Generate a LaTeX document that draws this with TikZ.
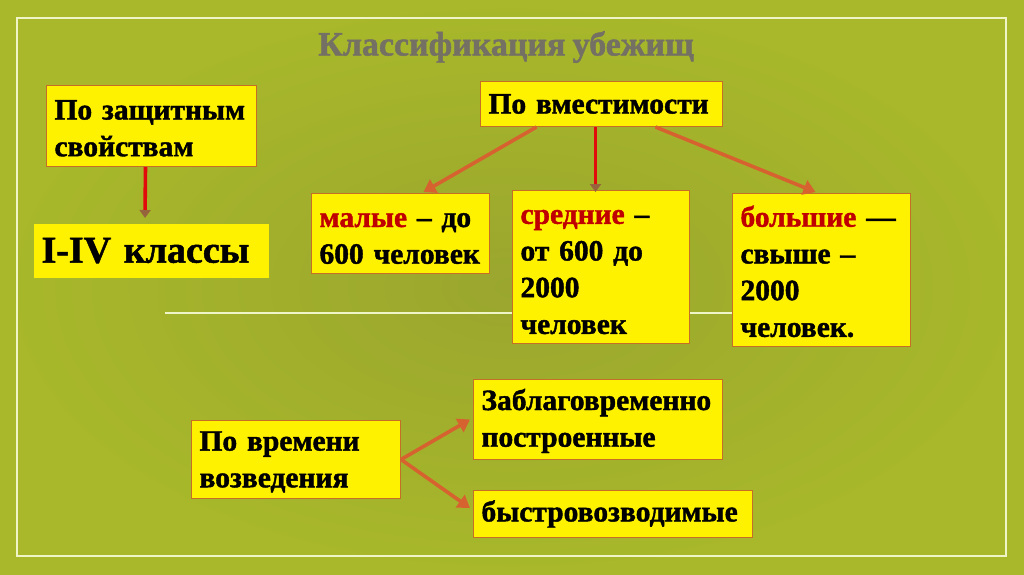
\documentclass[tikz,border=0pt]{standalone}
\usepackage{fontspec}
\setmainfont{Liberation Serif}[BoldFont={Liberation Serif Bold}]
\newfontfamily\tnrbold{Liberation Serif Bold}[FakeBold=1.4, WordSpace=0.85]
\usetikzlibrary{arrows.meta}
\definecolor{bgout}{RGB}{168,184,42}
\definecolor{bgin}{RGB}{154,166,46}
\definecolor{boxline}{RGB}{196,110,40}
\definecolor{kw}{RGB}{192,0,0}
\definecolor{orarr}{RGB}{214,98,48}
\definecolor{redarr}{RGB}{226,10,10}
\definecolor{tipdark}{RGB}{150,100,60}
\definecolor{titlegray}{RGB}{116,112,100}
\definecolor{framecol}{RGB}{240,245,200}
\newcommand\topstrut{\rule{0pt}{24pt}}
\hyphenpenalty=10000
\exhyphenpenalty=10000
\begin{document}
\begin{tikzpicture}[x=1pt,y=-1pt,
  box/.style={draw=boxline, line width=1pt, fill=yellow, anchor=north west,
    inner xsep=8pt, inner ysep=0pt, align=left,
    font=\tnrbold\fontsize{29.5}{36.7}\selectfont},
  oarrow/.style={draw=orarr, line width=3.6pt, -{Triangle[width=15pt,length=12pt]}},
  rarrow/.style={draw=redarr, line width=3.6pt, -{Triangle[width=11pt,length=8pt,color=tipdark]}},
]
\useasboundingbox (0,0) rectangle (1024,574);
\fill[bgout] (0,0) rectangle (1024,574);
\shade[inner color=bgin, outer color=bgout] (0,0) rectangle (1024,574);
\draw[framecol, line width=1.3pt] (17,18) rectangle (1006,556);
\draw[framecol, line width=1.2pt] (165,313) -- (860,313);

\node[text=titlegray, font=\tnrbold\fontsize{34}{40}\selectfont] (T) at (506,47) {Классификация убежищ};

\node[box, text width=194pt, minimum height=81pt] (A) at (46,85) {\topstrut По~защитным\\свойствам};
\node[box, draw=none, text width=219pt, minimum height=54pt, font=\tnrbold\fontsize{38}{44}\selectfont] (B) at (33,223) {I-IV~классы};
\node[box, text width=226pt, minimum height=45pt] (C) at (480,81) {По~вместимости};
\node[box, text width=162pt, minimum height=80pt] (D) at (311,193) {\topstrut\textcolor{kw}{малые}~–~до\\600~человек};
\node[box, text width=161pt, minimum height=153pt] (E) at (512,190) {\topstrut\textcolor{kw}{средние}~–\\от~600~до\\2000\\человек};
\node[box, text width=162pt, minimum height=153pt] (F) at (732,193) {\topstrut\textcolor{kw}{большие}~—\\свыше~–\\2000\\человек.};
\node[box, text width=193pt, minimum height=78pt] (G) at (191,420) {\topstrut По~времени\\возведения};
\node[box, text width=233pt, minimum height=80pt] (H) at (473,379) {\topstrut Заблаговременно\\построенные};
\node[box, text width=263pt, minimum height=47pt] (I) at (473,490) {быстровозводимые};

\draw[rarrow] ([xshift=-6pt]A.south) -- ([xshift=-6pt,yshift=5pt]B.north);
\draw[oarrow] ([xshift=-65pt]C.south) -- ([xshift=23pt,yshift=1pt]D.north);
\draw[rarrow] ([xshift=-6pt]C.south) -- ([xshift=-5.5pt,yshift=-2pt]E.north);
\draw[oarrow] ([xshift=54pt]C.south) -- ([xshift=-6pt,yshift=1pt]F.north);
\draw[oarrow] (G.east) -- ([xshift=-3pt]H.west);
\draw[oarrow] (G.east) -- ([xshift=-3pt,yshift=6pt]I.west);
\end{tikzpicture}
\end{document}
